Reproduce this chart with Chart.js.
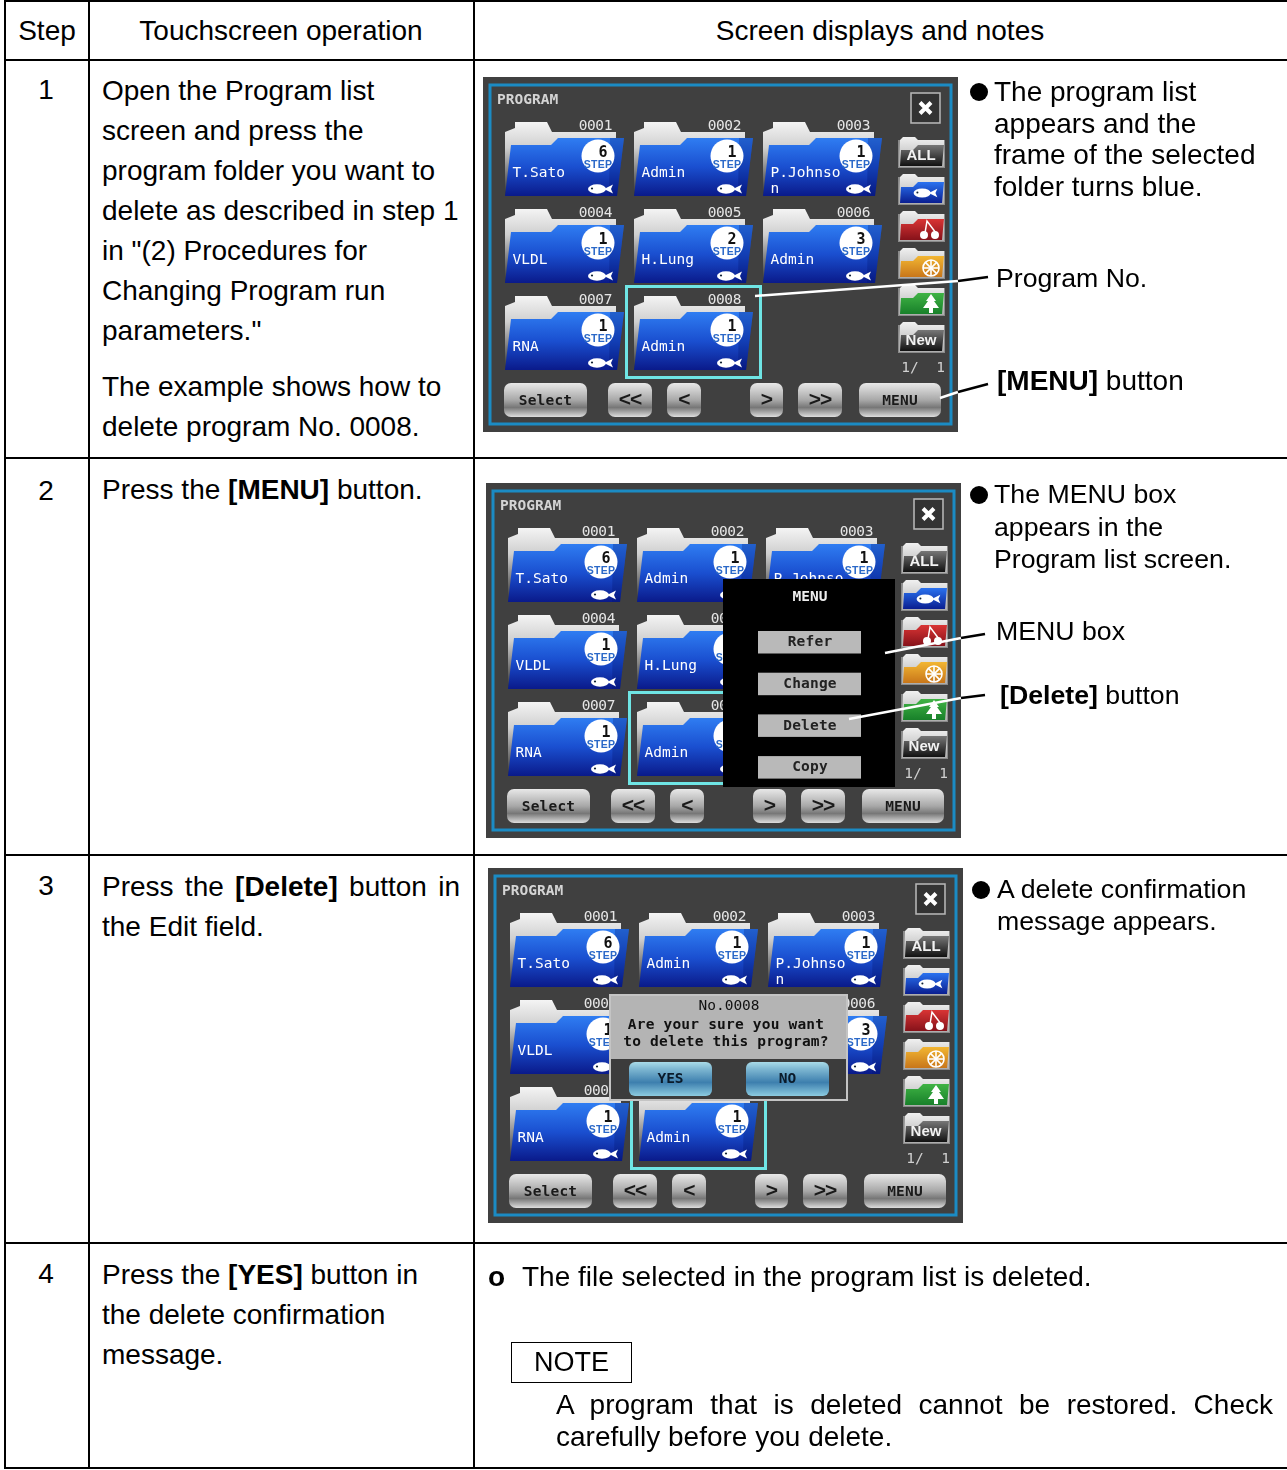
<!doctype html>
<html>

<head>
  <meta charset="utf-8">
  <title>Deleting a program</title>
  <script src="https://cdn.jsdelivr.net/npm/chart.js@4/dist/chart.umd.js"></script>
</head>
<style>
  html,
  body {
    margin: 0;
    background: #fff;
  }

  body {
    position: relative;
    width: 1287px;
    height: 1470px;
    overflow: hidden;
    font-family: "Liberation Sans", Arial, sans-serif;
    font-size: 28px;
    color: #000;
  }

  .grid {
    position: absolute;
    left: 4px;
    top: 0;
    width: 1283px;
    table-layout: fixed;
    border-collapse: collapse;
  }

  .grid td {
    border: 2px solid #000;
    padding: 0;
  }

  .t {
    position: absolute;
    line-height: 40px;
    white-space: nowrap;
  }

  .s {
    font-size: 26.7px;
  }

  .c {
    transform: translateX(-50%);
  }

  .just {
    position: absolute;
    text-align: justify;
  }

  .dot {
    position: absolute;
    width: 18px;
    height: 18px;
    border-radius: 50%;
    background: #000;
  }

  .note {
    position: absolute;
    left: 511px;
    top: 1342px;
    width: 119px;
    height: 39px;
    border: 1.5px solid #000;
    text-align: center;
    line-height: 39px;
    font-size: 27px;
  }

  canvas {
    position: absolute;
    filter: blur(0.55px);
  }

  svg {
    position: absolute;
    left: 0;
    top: 0;
  }
</style>

<body>
  <table class="grid">
    <colgroup>
      <col style="width:84px">
      <col style="width:385px">
      <col style="width:814px">
    </colgroup>
    <tr style="height:59px"><td></td><td></td><td></td></tr>
    <tr style="height:398px"><td></td><td></td><td></td></tr>
    <tr style="height:397px"><td></td><td></td><td></td></tr>
    <tr style="height:388px"><td></td><td></td><td></td></tr>
    <tr style="height:225px"><td></td><td></td><td></td></tr>
  </table>

  <div class="t c" style="left:47px;top:11px">Step</div>
  <div class="t c" style="left:281px;top:11px">Touchscreen operation</div>
  <div class="t c" style="left:880px;top:11px">Screen displays and notes</div>

  <div class="t c" style="left:46px;top:70px">1</div>
  <div class="t" style="left:102px;top:71px">Open the Program list<br>screen and press the<br>program folder you want to<br>delete as described in step 1<br>in "(2) Procedures for<br>Changing Program run<br>parameters."</div>
  <div class="t" style="left:102px;top:367px">The example shows how to<br>delete program No. 0008.</div>

  <div class="t c" style="left:46px;top:471px">2</div>
  <div class="t" style="left:102px;top:470px">Press the <b>[MENU]</b> button.</div>

  <div class="t c" style="left:46px;top:866px">3</div>
  <div class="just" style="left:102px;top:867px;width:358px;line-height:40px">Press the <b>[Delete]</b> button in the Edit field.</div>

  <div class="t c" style="left:46px;top:1254px">4</div>
  <div class="t" style="left:102px;top:1255px">Press the <b>[YES]</b> button in<br>the delete confirmation<br>message.</div>

  <canvas id="screen1" width="475" height="355" style="left:483px;top:77px"></canvas>
  <canvas id="screen2" width="475" height="355" style="left:486px;top:483px"></canvas>
  <canvas id="screen3" width="475" height="355" style="left:488px;top:868px"></canvas>

  <svg width="1287" height="1470">
    <g stroke="#fff" stroke-width="2.5">
      <line x1="755" y1="296" x2="958" y2="281" />
      <line x1="940" y1="398" x2="958" y2="392" />
      <line x1="885" y1="653" x2="961" y2="638" />
      <line x1="849" y1="719" x2="961" y2="698" />
    </g>
    <g stroke="#000" stroke-width="2.5">
      <line x1="958" y1="281" x2="988" y2="277" />
      <line x1="958" y1="392" x2="988" y2="384" />
      <line x1="961" y1="638" x2="985" y2="634" />
      <line x1="961" y1="698" x2="985" y2="695" />
    </g>
  </svg>

  <div class="dot" style="left:970px;top:83px"></div>
  <div class="t" style="left:994px;top:76px;line-height:31.5px">The program list<br>appears and the<br>frame of the selected<br>folder turns blue.</div>
  <div class="t s" style="left:996px;top:258px">Program No.</div>
  <div class="t" style="left:997px;top:361px"><b>[MENU]</b> button</div>

  <div class="dot" style="left:970px;top:486px"></div>
  <div class="t s" style="left:994px;top:478px;line-height:32.5px">The MENU box<br>appears in the<br>Program list screen.</div>
  <div class="t s" style="left:996px;top:611px">MENU box</div>
  <div class="t s" style="left:1000px;top:675px"><b>[Delete]</b> button</div>

  <div class="dot" style="left:972px;top:881px"></div>
  <div class="t s" style="left:997px;top:874px;line-height:31.5px">A delete confirmation<br>message appears.</div>

  <div class="t" style="left:488px;top:1257px"><b>o</b></div>
  <div class="t" style="left:522px;top:1257px">The file selected in the program list is deleted.</div>
  <div class="note">NOTE</div>
  <div class="just" style="left:556px;top:1389px;width:717px;line-height:32px">A program that is deleted cannot be restored. Check carefully before you delete.</div>

  <script>
    var programNumbers = ["0001", "0002", "0003", "0004", "0005", "0006", "0007", "0008"];
    var programNames = ["T. Sato", "Admin", "P. Johnson", "VLDL", "H. Lung", "Admin", "RNA", "Admin"];
    var stepCounts = [6, 1, 1, 1, 2, 3, 1, 1];
    var selectedProgram = 7;
    var sideTabs = ["ALL", "fish", "cherry", "wheel", "tree", "New"];
    var navLabels = ["Select", "<<", "<", ">", ">>", "MENU"];
    var menuItems = ["Refer", "Change", "Delete", "Copy"];
    var dialogLines = ["No. 0008", "Are your sure you want", "to delete this program?"];
    var dialogButtons = ["YES", "NO"];
    var pageLabel = "1/  1";

    var panelW = 475, panelH = 355;
    var MONO = '"DejaVu Sans Mono", monospace';
    var SANS = '"Liberation Sans", sans-serif';

    function sprite(w, h, paint) {
      var c = document.createElement("canvas");
      c.width = w;
      c.height = h;
      paint(c.getContext("2d"));
      return c;
    }

    function poly(g, pts) {
      g.beginPath();
      g.moveTo(pts[0][0], pts[0][1]);
      for (var i = 1; i < pts.length; i++) g.lineTo(pts[i][0], pts[i][1]);
      g.closePath();
    }

    function grad(g, y0, y1, stops) {
      var l = g.createLinearGradient(0, y0, 0, y1);
      stops.forEach(function (s) { l.addColorStop(s[0], s[1]); });
      return l;
    }

    function label(g, text, x, y, font, color, align, spacing, wordGap) {
      g.font = font;
      g.fillStyle = color;
      g.textAlign = align || "left";
      g.textBaseline = "middle";
      g.letterSpacing = (spacing || 0) + "px";
      g.wordSpacing = (wordGap || 0) + "px";
      g.fillText(text, x, y);
      g.letterSpacing = "0px";
      g.wordSpacing = "0px";
    }

    function roundBox(g, x, y, w, h, r) {
      g.beginPath();
      g.roundRect(x, y, w, h, r);
    }

    function fish(g, cx, cy, s) {
      g.fillStyle = "#fff";
      g.beginPath();
      g.ellipse(cx - 3 * s, cy, 9 * s, 4.7 * s, 0, 0, Math.PI * 2);
      g.fill();
      poly(g, [[cx + 4 * s, cy], [cx + 13 * s, cy - 4.5 * s], [cx + 11 * s, cy], [cx + 13 * s, cy + 4.5 * s]]);
      g.fill();
      g.fillStyle = "#123";
      g.beginPath();
      g.arc(cx - 8 * s, cy - 0.5 * s, 1.1 * s, 0, Math.PI * 2);
      g.fill();
    }

    function folderSprite(i) {
      var top = 4;
      return sprite(120, 79, function (g) {
        g.translate(0, top);
        // back sheet
        g.fillStyle = grad(g, 0, 74, [[0, "#f4f4f4"], [0.35, "#cfcfcf"], [1, "#2e2e2e"]]);
        poly(g, [[10, 0], [42, 0], [47, 10], [111, 10], [111, 74], [0, 74], [0, 10], [10, 6]]);
        g.fill();
        // number sits beside the tab
        label(g, programNumbers[i], 107, 4, "14.5px " + MONO, "#e6e6e6", "right", -0.4);
        // front sheet
        g.fillStyle = grad(g, 16, 74, [[0, "#2f7df2"], [0.5, "#1a4fd0"], [1, "#0a1a8a"]]);
        poly(g, [[6, 23], [46, 23], [53, 16], [119, 16], [112, 74], [0, 74]]);
        g.fill();
        g.fillStyle = "rgba(0,20,110,0.28)";
        poly(g, [[105, 16], [119, 16], [112, 74], [104, 74]]);
        g.fill();
        // step badge
        g.fillStyle = "#fff";
        g.beginPath();
        g.arc(93, 34, 16.5, 0, Math.PI * 2);
        g.fill();
        label(g, String(stepCounts[i]), 98, 31, "bold 15px " + MONO, "#111", "center", 0);
        label(g, "STEP", 93, 43, "bold 10.5px " + SANS, "#2a68c8", "center", 0.3);
        fish(g, 95, 67, 1);
        // names wrap after nine characters on the panel
        var name = programNames[i];
        label(g, name.slice(0, 9), 7.5, 51, "14.5px " + MONO, "#fff", "left", 0, -8.7);
        if (name.length > 9) label(g, name.slice(9), 7.5, 67, "14.5px " + MONO, "#fff", "left", 0);
      });
    }

    function tabIcon(g, kind) {
      g.fillStyle = "#fff";
      g.strokeStyle = "#fff";
      if (kind === "fish") {
        fish(g, 27, 19, 0.95);
      } else if (kind === "cherry") {
        g.beginPath();
        g.arc(26, 24, 4, 0, Math.PI * 2);
        g.arc(37, 24, 4, 0, Math.PI * 2);
        g.fill();
        g.lineWidth = 1.5;
        g.beginPath();
        g.moveTo(27, 22);
        g.lineTo(29, 10);
        g.lineTo(38, 22);
        g.stroke();
      } else if (kind === "wheel") {
        g.lineWidth = 1.6;
        g.beginPath();
        g.arc(33, 20, 8, 0, Math.PI * 2);
        g.stroke();
        for (var a = 0; a < 4; a++) {
          g.beginPath();
          g.moveTo(33 + 8 * Math.cos(a * Math.PI / 4), 20 + 8 * Math.sin(a * Math.PI / 4));
          g.lineTo(33 - 8 * Math.cos(a * Math.PI / 4), 20 - 8 * Math.sin(a * Math.PI / 4));
          g.stroke();
        }
      } else if (kind === "tree") {
        poly(g, [[33, 9], [38, 16], [36, 16], [41, 23], [35, 23], [35, 28], [31, 28], [31, 23], [25, 23], [30, 16], [28, 16]]);
        g.fill();
      } else {
        label(g, kind, 23, 19, "bold 15px " + SANS, "#f2f2f2", "center", 0);
      }
    }

    var tabColours = {
      ALL: ["#777", "#111"], New: ["#777", "#111"],
      fish: ["#2a72f0", "#0a1e90"], cherry: ["#d93434", "#86121a"],
      wheel: ["#f2b632", "#c8761a"], tree: ["#3fb344", "#18802a"]
    };

    function tabSprite(kind) {
      return sprite(47, 31, function (g) {
        g.fillStyle = "#8a8a8a";
        g.fillRect(0, 3, 47, 28);
        g.fillStyle = grad(g, 0, 31, [[0, "#f0f0f0"], [1, "#aaa"]]);
        poly(g, [[2, 3], [5, 0], [17, 0], [20, 3], [46, 3], [46, 30], [1, 30]]);
        g.fill();
        var c = tabColours[kind];
        g.fillStyle = grad(g, 8, 29, [[0, c[0]], [1, c[1]]]);
        poly(g, [[3, 13], [15, 13], [20, 8], [46, 8], [44, 29], [2, 29]]);
        g.fill();
        tabIcon(g, kind);
      });
    }

    function navSprite(text, w) {
      return sprite(w, 34, function (g) {
        roundBox(g, 0, 0, w, 34, 7);
        g.fillStyle = grad(g, 0, 34, [[0, "#e8e8e8"], [0.5, "#a8a8a8"], [0.72, "#777"], [0.86, "#aaa"], [1, "#dedede"]]);
        g.fill();
        var arrow = text === "<<" || text === "<" || text === ">" || text === ">>";
        var font = arrow ? "bold 21px " + SANS : "bold 14.5px " + MONO;
        label(g, text, w / 2, arrow ? 17 : 18, font, "#1a1a1a", "center", arrow ? -1 : 0.2);
      });
    }

    function closeSprite(w, h, fill) {
      return sprite(w, h, function (g) {
        g.fillStyle = fill;
        g.fillRect(0, 0, w, h);
        g.strokeStyle = "#b5b5b5";
        g.lineWidth = 1.6;
        g.strokeRect(1, 1, w - 2, h - 2);
        g.strokeStyle = "#fff";
        g.lineWidth = 4;
        g.beginPath();
        g.moveTo(w / 2 - 5.5, h / 2 - 5.5);
        g.lineTo(w / 2 + 5.5, h / 2 + 5.5);
        g.moveTo(w / 2 + 5.5, h / 2 - 5.5);
        g.lineTo(w / 2 - 5.5, h / 2 + 5.5);
        g.stroke();
      });
    }

    function frameSprite() {
      return sprite(137, 94, function (g) {
        g.strokeStyle = "#6fe5e5";
        g.lineWidth = 3;
        g.strokeRect(1.5, 1.5, 134, 91);
      });
    }

    function menuSprite() {
      return sprite(172, 208, function (g) {
        g.fillStyle = "#000";
        g.fillRect(0, 0, 172, 208);
        label(g, "MENU", 87, 18, "bold 14.5px " + MONO, "#eee", "center", 0);
        menuItems.forEach(function (item, i) {
          var y = 52 + i * 41.7;
          g.fillStyle = "#b9b9b9";
          g.fillRect(35, y, 103, 22.5);
          label(g, item, 87, y + 11.5, "bold 14.5px " + MONO, "#222", "center", 0.2);
        });
      });
    }

    function dialogSprite() {
      return sprite(239, 107, function (g) {
        g.fillStyle = "#3c3c3c";
        g.fillRect(0, 0, 239, 107);
        g.fillStyle = "#b4b4b4";
        g.fillRect(2, 2, 235, 63);
        g.strokeStyle = "#c4c4c4";
        g.lineWidth = 2;
        g.strokeRect(1, 1, 237, 105);
        label(g, dialogLines[0], 120, 12, "14.5px " + MONO, "#111", "center", 0, -8.7);
        label(g, dialogLines[1], 117, 31, "bold 14.5px " + MONO, "#111", "center", 0.2);
        label(g, dialogLines[2], 117, 48.5, "bold 14.5px " + MONO, "#111", "center", 0.2);
        dialogButtons.forEach(function (b, i) {
          var x = 20 + i * 117;
          roundBox(g, x, 68, 83, 34, 6);
          g.fillStyle = grad(g, 68, 102, [[0, "#a9dbe8"], [0.2, "#7fb8d2"], [0.6, "#3d7fae"], [1, "#8ccbe0"]]);
          g.fill();
          label(g, b, x + 41.5, 85, "bold 14.5px " + MONO, "#0a1a2a", "center", 0);
        });
      });
    }

    // every layer is a scatter dataset whose points are placed by the panel scales
    function layer(items) {
      return {
        data: items.map(function (p) { return { x: p.x, y: p.y }; }),
        pointStyle: items.map(function (p) { return p.s; }),
        pointRadius: 1,
        showLine: false
      };
    }

    function at(left, top, s) {
      return { x: left + s.width / 2, y: top + s.height / 2, s: s };
    }

    var panelBackground = {
      id: "panelBackground",
      beforeDraw: function (chart) {
        var g = chart.ctx;
        g.save();
        g.fillStyle = "#404040";
        g.fillRect(0, 0, panelW, panelH);
        g.strokeStyle = "#1b8bc4";
        g.lineWidth = 3;
        g.strokeRect(7, 8, 461, 339);
        label(g, "PROGRAM", 14, 23, "bold 14.5px " + MONO, "#d4d4d4", "left", 0);
        label(g, pageLabel, 462, 291, "14.5px " + MONO, "#d0d0d0", "right", 0);
        g.restore();
      }
    };

    function drawScreen(id, overlay) {
      var folders = programNumbers.map(function (n, i) {
        return at(22 + 129 * (i % 3), 41 + 87 * Math.floor(i / 3), folderSprite(i));
      });
      var tabs = sideTabs.map(function (k, i) {
        return at(415, 60 + 37 * i, tabSprite(k));
      });
      var navLeft = [21, 125, 184, 267, 315, 376];
      var navWide = [83, 44, 34, 33, 44, 82];
      var nav = navLabels.map(function (t, i) {
        return at(navLeft[i], 306, navSprite(t, navWide[i]));
      });
      var frame = at(13 + 129 * (selectedProgram % 3), 34 + 87 * Math.floor(selectedProgram / 3), frameSprite());
      var close = at(427, 15, closeSprite(31, 32, "#333"));

      var datasets = [layer(folders), layer([frame]), layer(tabs), layer(nav), layer([close])];
      if (overlay.length) datasets.unshift(layer(overlay));

      new Chart(document.getElementById(id), {
        type: "scatter",
        data: { datasets: datasets },
        plugins: [panelBackground],
        options: {
          responsive: false,
          animation: false,
          events: [],
          layout: { padding: 0, autoPadding: false },
          plugins: { legend: { display: false }, tooltip: { enabled: false } },
          scales: {
            x: { type: "linear", display: false, min: 0, max: panelW },
            y: { type: "linear", display: false, min: 0, max: panelH, reverse: true }
          }
        }
      });
    }

    drawScreen("screen1", []);
    drawScreen("screen2", [at(375, 98, closeSprite(30, 32, "#333")), at(237, 96, menuSprite())]);
    drawScreen("screen3", [at(121, 126, dialogSprite())]);
  </script>
</body>

</html>
